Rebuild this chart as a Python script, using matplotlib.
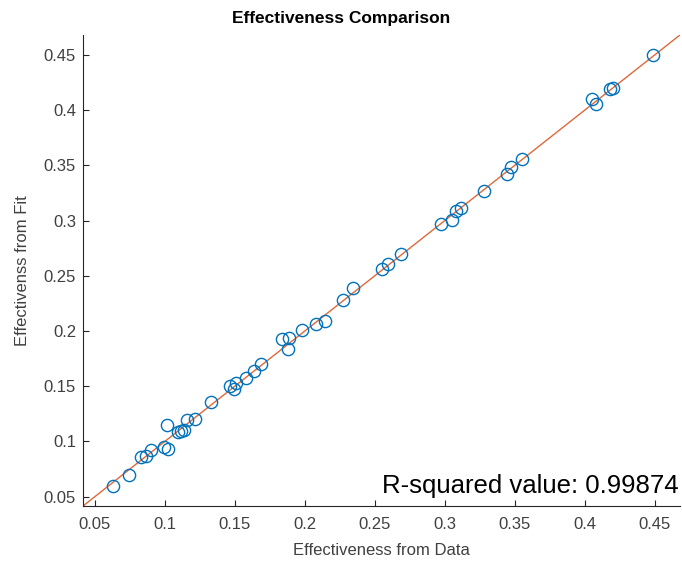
import numpy as np
import matplotlib
matplotlib.use('Agg')
import matplotlib.pyplot as plt

# effectiveness values
eff_data = [0.0629, 0.0743, 0.0829, 0.0864, 0.0900, 0.1014, 0.0993, 0.1021,
            0.1093, 0.1115, 0.1140, 0.1157, 0.1214, 0.1329, 0.1464, 0.1493,
            0.1507, 0.1579, 0.1636, 0.1686, 0.1836, 0.1886, 0.1879, 0.1979,
            0.2079, 0.2143, 0.2271, 0.2343, 0.2550, 0.2593, 0.2686, 0.2971,
            0.3050, 0.3079, 0.3114, 0.3279, 0.3443, 0.3471, 0.3550, 0.4050,
            0.4079, 0.4179, 0.4200, 0.4486]
eff_fit = [0.0600, 0.0699, 0.0862, 0.0871, 0.0925, 0.1152, 0.0952, 0.0934,
           0.1088, 0.1090, 0.1100, 0.1197, 0.1206, 0.1360, 0.1500, 0.1470,
           0.1530, 0.1577, 0.1640, 0.1704, 0.1930, 0.1939, 0.1839, 0.2011,
           0.2066, 0.2093, 0.2283, 0.2385, 0.2563, 0.2609, 0.2699, 0.2971,
           0.3007, 0.3088, 0.3115, 0.3269, 0.3423, 0.3486, 0.3559, 0.4102,
           0.4057, 0.4192, 0.4201, 0.4495]
r_squared = 0.99874
ticks = [0.05, 0.1, 0.15, 0.2, 0.25, 0.3, 0.35, 0.4, 0.45]
tick_labels = ['0.05', '0.1', '0.15', '0.2', '0.25', '0.3', '0.35', '0.4', '0.45']
lims = [0.0415, 0.468]

plt.rcParams['font.family'] = ['Liberation Sans', 'DejaVu Sans']
dark = '#262626'
gray = '#404040'

fig = plt.figure(figsize=(6.82, 5.69), dpi=100)
ax = fig.add_axes([0.1217, 0.1107, 0.8753, 0.8278])

ax.plot(lims, lims, color='#E0683A', lw=1.0, zorder=1)
ax.plot(eff_data, eff_fit, 'o', mfc='none', mec='#0072BD', ms=8.8, mew=1.0, zorder=2)

ax.set_xlim(lims)
ax.set_ylim(lims)
ax.set_xticks(ticks)
ax.set_xticklabels(tick_labels)
ax.set_yticks(ticks)
ax.set_yticklabels(tick_labels)
ax.tick_params(direction='in', length=4, width=0.8, colors=dark, labelcolor=gray,
               labelsize=12)
ax.tick_params(axis='x', pad=8)
ax.tick_params(axis='y', pad=5)

for side in ['top', 'right']:
    ax.spines[side].set_visible(False)
for side in ['left', 'bottom']:
    ax.spines[side].set_color(dark)
    ax.spines[side].set_linewidth(0.8)

ax.set_xlabel('Effectiveness from Data', fontsize=12, color=gray, labelpad=8)
ax.set_ylabel('Effectivenss from Fit', fontsize=12, color=gray, labelpad=10)
fig.text(0.5, 0.967, 'Effectiveness Comparison', ha='center', va='center',
         fontsize=12.5, fontweight='bold', color='black')
ax.text(0.998, 0.018, f'R-squared value: {r_squared}', transform=ax.transAxes,
        ha='right', va='bottom', fontsize=18.5, color='black')

fig.savefig('out.png', dpi=100)
